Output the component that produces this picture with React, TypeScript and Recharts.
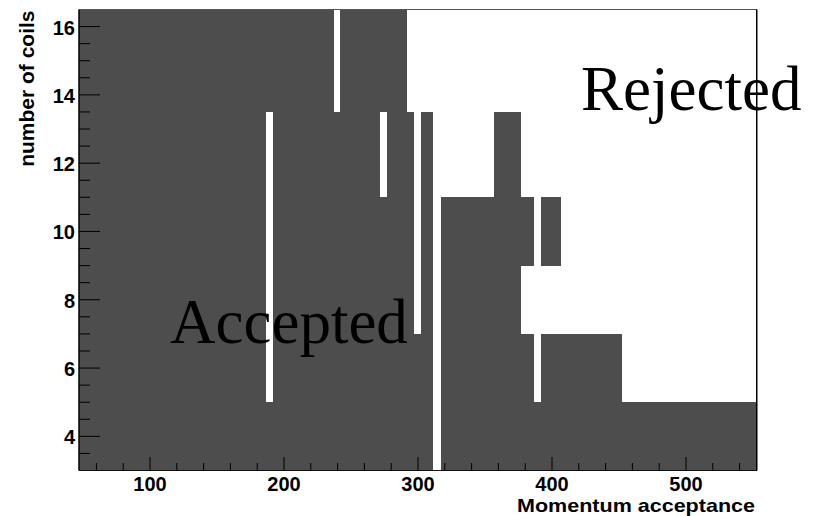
import React from 'react';
import { ComposedChart, XAxis, YAxis, ReferenceArea, ReferenceLine, ReferenceDot } from 'recharts';

// axis ranges and ticks
const xDomain: [number, number] = [47, 553];
const yDomain: [number, number] = [3, 16.5];
const xTicks = [60, 80, 100, 120, 140, 160, 180, 200, 220, 240, 260, 280, 300, 320, 340, 360, 380, 400, 420, 440, 460, 480, 500, 520, 540];
const xMajor = [100, 200, 300, 400, 500];
const yTicks = [3.5, 4, 4.5, 5, 5.5, 6, 6.5, 7, 7.5, 8, 8.5, 9, 9.5, 10, 10.5, 11, 11.5, 12, 12.5, 13, 13.5, 14, 14.5, 15, 15.5, 16];
const yMajor = [4, 6, 8, 10, 12, 14, 16];

// accepted (dark) cells: momentum acceptance range x number of coils range
const cellX0 = [47, 186.6, 186.6, 192, 237.5, 241.8, 271.6, 271.6, 277.2, 291.6, 297.2, 301.9, 317.1, 356.9, 376.9, 376.9, 386.8, 391.5, 391.5, 406.7, 452.2];
const cellX1 = [186.6, 192, 192, 237.5, 241.8, 271.6, 277.2, 277.2, 291.6, 297.2, 301.9, 311.4, 356.9, 376.9, 386.8, 386.8, 391.5, 406.7, 406.7, 452.2, 553];
const cellY0 = [3, 3, 13.5, 3, 3, 3, 3, 13.5, 3, 3, 3, 3, 3, 3, 3, 9, 3, 3, 9, 3, 3];
const cellY1 = [16.5, 5, 16.5, 16.5, 13.5, 16.5, 11, 16.5, 16.5, 13.5, 7, 13.5, 11, 13.5, 7, 11, 5, 7, 11, 7, 5];

const regionLabels = ['Rejected', 'Accepted'];
const xTitle = 'Momentum acceptance';
const yTitle = 'number of coils';

const DARK = '#4d4d4d';
const SANS = '"Liberation Sans", Arial, Helvetica, sans-serif';
const SERIF = '"Liberation Serif", "Times New Roman", Times, serif';

const XTick = (props: any) => {
  const { x, y, payload } = props;
  const major = xMajor.includes(payload.value);
  return (
    <g>
      <line x1={x} x2={x} y1={y} y2={y - (major ? 13.5 : 7.5)} stroke="#000" strokeWidth={1} />
      {major && (
        <text x={x} y={y + 20} textAnchor="middle" fontFamily={SANS} fontWeight="bold" fontSize={20} fill="#000">
          {payload.value}
        </text>
      )}
    </g>
  );
};

const YTick = (props: any) => {
  const { x, y, payload } = props;
  const major = yMajor.includes(payload.value);
  return (
    <g>
      <line x1={x} x2={x + (major ? 21 : 11)} y1={y} y2={y} stroke="#000" strokeWidth={1} />
      {major && (
        <text x={x - 4} y={y + 8} textAnchor="end" fontFamily={SANS} fontWeight="bold" fontSize={20} fill="#000">
          {payload.value}
        </text>
      )}
    </g>
  );
};

const RegionText = () => (
  <g>
    <text x={581} y={110} fontFamily={SERIF} fontSize={63} fill="#000">{regionLabels[0]}</text>
    <text x={170} y={343} fontFamily={SERIF} fontSize={63} fill="#000">{regionLabels[1]}</text>
    <line x1={756.5} x2={756.5} y1={9.5} y2={470.5} stroke="#000" strokeWidth={1} />
  </g>
);

export default function App() {
  return (
    <div style={{ position: 'absolute', left: 0, top: 0, width: 817, height: 516, background: '#fff' }}>
      <ComposedChart
        width={817}
        height={516}
        data={[]}
        margin={{ top: 9.5, right: 60, left: 0, bottom: 0 }}
      >
        {cellX0.map((x0, i) => (
          <ReferenceArea
            key={i}
            x1={x0}
            x2={cellX1[i]}
            y1={cellY0[i]}
            y2={cellY1[i]}
            fill={DARK}
            fillOpacity={1}
            stroke="none"
            shapeRendering="crispEdges"
            ifOverflow="hidden"
          />
        ))}
        <XAxis
          type="number"
          dataKey="x"
          domain={xDomain}
          ticks={xTicks}
          interval={0}
          height={45.5}
          tickSize={0}
          tickMargin={0}
          tickLine={false}
          tick={<XTick />}
          axisLine={{ stroke: '#111', strokeWidth: 1.2 }}
          allowDataOverflow
        />
        <YAxis
          type="number"
          domain={yDomain}
          ticks={yTicks}
          interval={0}
          width={79}
          tickSize={0}
          tickMargin={0}
          tickLine={false}
          tick={<YTick />}
          axisLine={{ stroke: '#000', strokeWidth: 1.5 }}
          allowDataOverflow
        />
        <ReferenceLine y={16.5} stroke="#555" strokeWidth={1} ifOverflow="visible" />
        <ReferenceLine x={553} stroke="#000" strokeWidth={1} ifOverflow="visible" />
        <ReferenceDot
          x={xDomain[0]}
          y={yDomain[1]}
          r={0}
          fill="none"
          stroke="none"
          ifOverflow="visible"
          label={<RegionText />}
        />
        <text x={755} y={511.5} textAnchor="end" fontFamily={SANS} fontWeight="bold" fontSize={19} textLength={238} lengthAdjust="spacingAndGlyphs" fill="#000">{xTitle}</text>
        <text x={-10.5} y={34} transform="rotate(-90)" textAnchor="end" fontFamily={SANS} fontWeight="bold" fontSize={21} fill="#000">{yTitle}</text>
      </ComposedChart>
    </div>
  );
}
